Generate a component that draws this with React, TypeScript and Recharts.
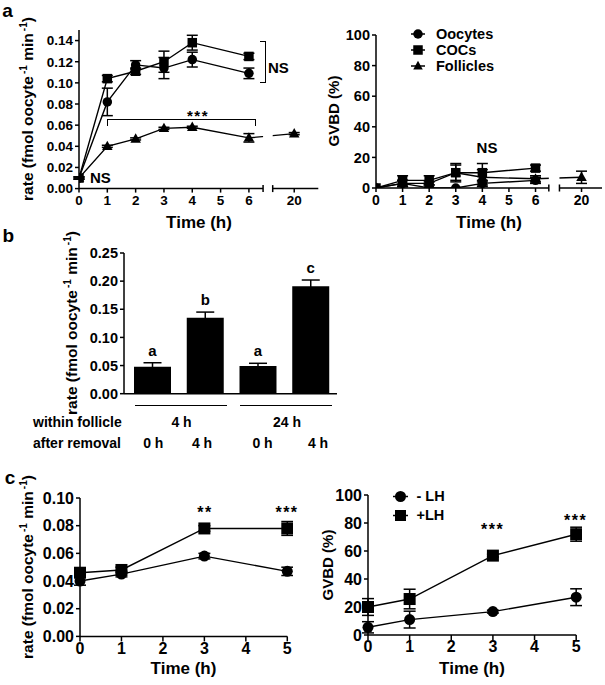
import React from 'react';
import {
  LineChart, Line, BarChart, Bar, XAxis, YAxis, ErrorBar, LabelList,
  ReferenceLine, ReferenceArea, Legend,
} from 'recharts';

// ---------- panel a: respiration rate and GVBD over culture time ----------
const hoursA = [0, 1, 2, 3, 4, 6, 20];
const rateOocytes = [0.010, 0.082, 0.117, 0.114, 0.122, 0.109, null];
const rateOocytesSem = [0.001, 0.013, 0.004, 0.010, 0.007, 0.005, null];
const rateCOCs = [0.010, 0.104, 0.111, 0.120, 0.138, 0.125, null];
const rateCOCsSem = [0.001, 0.003, 0.003, 0.010, 0.007, 0.003, null];
const rateFollicles = [0.010, 0.040, 0.047, 0.057, 0.058, 0.048, 0.052];
const rateFolliclesSem = [0.001, 0.001, 0.001, 0.001, 0.001, 0.004, 0.001];

const gvbdOocytes = [0, 3, 0, 0, 3, 5, null];
const gvbdOocytesSem = [0, 2, 0, 0, 2, 2, null];
const gvbdCOCs = [0, 5, 5, 10, 10, 13, null];
const gvbdCOCsSem = [0, 3, 3, 6, 6, 2, null];
const gvbdFollicles = [0, 3, 3, 10, 7, 6, 7];
const gvbdFolliclesSem = [0, 2, 1, 5, 5, 2, 4];

const seriesA = ['Oocytes', 'COCs', 'Follicles'];
const hourTicksA = [0, 1, 2, 3, 4, 5, 6, 20];
const rateTicksA = [0, 0.02, 0.04, 0.06, 0.08, 0.1, 0.12, 0.14];
const gvbdTicks = [0, 20, 40, 60, 80, 100];

// ---------- panel b ----------
const groupsB = ['4h/0h', '4h/4h', '24h/0h', '24h/4h'];
const rateB = [0.048, 0.135, 0.049, 0.191];
const semB = [0.007, 0.010, 0.005, 0.011];
const lettersB = ['a', 'b', 'a', 'c'];
const rateTicksB = [0, 0.05, 0.1, 0.15, 0.2, 0.25];
const withinFollicle = ['4 h', '24 h'];
const afterRemoval = ['0 h', '4 h', '0 h', '4 h'];

// ---------- panel c ----------
const hoursC = [0, 1, 3, 5];
const rateMinusLH = [0.040, 0.045, 0.058, 0.047];
const rateMinusLHSem = [0.003, 0.002, 0.002, 0.003];
const ratePlusLH = [0.046, 0.048, 0.078, 0.078];
const ratePlusLHSem = [0.003, 0.002, 0.002, 0.005];
const gvbdMinusLH = [5.5, 11, 16.7, 27];
const gvbdMinusLHSem = [4, 6, 1, 6];
const gvbdPlusLH = [20, 25.7, 56.7, 72];
const gvbdPlusLHSem = [6, 7, 1, 5];
const seriesC = ['- LH', '+LH'];
const hourTicksC = [0, 1, 2, 3, 4, 5];
const rateTicksC = [0, 0.02, 0.04, 0.06, 0.08, 0.1];

const FONT = '"Liberation Sans", Arial, sans-serif';
const YW = 50;
const XH = 30;
const ink = { stroke: '#000', strokeWidth: 1.5 };
const tickFont = (size: number) => ({ fill: '#000', fontSize: size, fontWeight: 700, fontFamily: FONT });

const shapes: Record<string, string> = {
  Oocytes: 'circle', COCs: 'square', Follicles: 'triangle', '- LH': 'circle', '+LH': 'square',
};

// 20 h sits after an axis break, so it gets its own slot on the axis
const A20_LEFT = 7.6;
const A20_RIGHT = 7.73;
const broken = (h: number, at20: number) => (h > 6 ? at20 : h);
const fmtHour = (v: number) => (v > 6 ? '20' : String(v));

const rowsRateA = hoursA.map((h, i) => ({
  t: broken(h, A20_LEFT),
  oocytes: rateOocytes[i], oocytesSem: rateOocytesSem[i],
  cocs: rateCOCs[i], cocsSem: rateCOCsSem[i],
  follicles: rateFollicles[i], folliclesSem: rateFolliclesSem[i],
}));
const rowsGvbdA = hoursA.map((h, i) => ({
  t: broken(h, A20_RIGHT),
  oocytes: gvbdOocytes[i], oocytesSem: gvbdOocytesSem[i],
  cocs: gvbdCOCs[i], cocsSem: gvbdCOCsSem[i],
  follicles: gvbdFollicles[i], folliclesSem: gvbdFolliclesSem[i],
}));
const rowsB = groupsB.map((g, i) => ({ group: g, rate: rateB[i], sem: semB[i], letter: lettersB[i] }));
const rowsRateC = hoursC.map((h, i) => ({
  t: h, minus: rateMinusLH[i], minusSem: rateMinusLHSem[i], plus: ratePlusLH[i], plusSem: ratePlusLHSem[i],
}));
const rowsGvbdC = hoursC.map((h, i) => ({
  t: h, minus: gvbdMinusLH[i], minusSem: gvbdMinusLHSem[i], plus: gvbdPlusLH[i], plusSem: gvbdPlusLHSem[i],
}));

// chart box placed so that its plot area lands on (l,t)-(r,b) of the page
function frame(l: number, t: number, r: number, b: number, mt = 12, mr = 6) {
  const mb = 4;
  return {
    pos: { position: 'absolute' as const, left: l - YW, top: t - mt },
    width: YW + (r - l) + mr,
    height: mt + (b - t) + XH + mb,
    margin: { top: mt, right: mr, bottom: mb, left: 0 },
  };
}
const fA1 = frame(79, 29.7, 318.3, 188.3);
const fA2 = frame(375.7, 35, 601.7, 188, 12, 2);
const fB = frame(124, 253.3, 337, 394);
const fC1 = frame(80, 498.3, 287.3, 636.7);
const fC2 = frame(367.5, 495, 575.7, 635, 12);

function Marker({ shape, cx, cy, size }: any) {
  if (shape === 'circle') return <circle cx={cx} cy={cy} r={size / 2} fill="#000" />;
  if (shape === 'square') return <rect x={cx - size / 2} y={cy - size / 2} width={size} height={size} fill="#000" />;
  const h = size * 0.9;
  return (
    <polygon
      points={`${cx},${cy - h * 0.6} ${cx - size / 2},${cy + h * 0.4} ${cx + size / 2},${cy + h * 0.4}`}
      fill="#000"
    />
  );
}

const dotOf = (shape: string, size: number) => (p: any) =>
  p.cx == null || p.cy == null
    ? <g key={`n${shape}${p.index}`} />
    : <Marker key={`${shape}${p.index}`} shape={shape} cx={p.cx} cy={p.cy} size={size} />;

function SeriesLegend({ payload, order, rowH, lineW, gap, size }: any) {
  const items = [...(payload || [])].sort((a: any, b: any) => order.indexOf(a.value) - order.indexOf(b.value));
  return (
    <div style={{ fontFamily: FONT, fontWeight: 700 }}>
      {items.map((e: any) => (
        <div key={e.value} style={{ display: 'flex', alignItems: 'center', height: rowH }}>
          <svg width={lineW} height={rowH} style={{ display: 'block' }}>
            <line x1={0} x2={lineW} y1={rowH / 2} y2={rowH / 2} stroke="#000" strokeWidth={1.5} />
            <Marker shape={shapes[e.value]} cx={lineW / 2} cy={rowH / 2} size={size} />
          </svg>
          <span style={{ marginLeft: gap, fontSize: 14.5, lineHeight: 1 }}>{e.value}</span>
        </div>
      ))}
    </div>
  );
}

function LetterLabel(props: any) {
  const vb = props.viewBox || props;
  const x = Number(vb.x ?? props.x);
  const y = Number(vb.y ?? props.y);
  const w = Number(vb.width ?? props.width);
  const h = Number(vb.height ?? props.height);
  const i = props.index;
  const errPx = (semB[i] / rateB[i]) * h;
  return (
    <text x={x + w / 2} y={y - errPx - 7} textAnchor="middle" fontSize={15} fontWeight={700} fontFamily={FONT} fill="#000">
      {props.value}
    </text>
  );
}

function brokenAxis(end6: number, start20: number, end: number, tick: number) {
  return [
    <ReferenceLine key="s1" segment={[{ x: 0, y: 0 }, { x: end6, y: 0 }]} {...ink} ifOverflow="visible" />,
    <ReferenceLine key="s2" segment={[{ x: start20, y: 0 }, { x: end, y: 0 }]} {...ink} ifOverflow="visible" />,
    <ReferenceLine key="b1" segment={[{ x: end6, y: -tick }, { x: end6, y: tick }]} {...ink} ifOverflow="visible" />,
    <ReferenceLine key="b2" segment={[{ x: start20, y: -tick }, { x: start20, y: tick }]} {...ink} ifOverflow="visible" />,
  ];
}

const Note = ({ x, y, size = 15, left = false, spacing = 0, children }: any) => (
  <div
    style={{
      position: 'absolute', left: x, top: y, fontSize: size, lineHeight: 1, whiteSpace: 'nowrap',
      letterSpacing: spacing, transform: left ? 'translateY(-50%)' : 'translate(-50%,-50%)',
    }}
  >
    {children}
  </div>
);

const Title = ({ x, y, size = 17, rotate = false, children }: any) => (
  <div
    style={{
      position: 'absolute', left: x, top: y, fontSize: size, lineHeight: 1, whiteSpace: 'nowrap',
      transform: `translate(-50%,-50%)${rotate ? ' rotate(-90deg)' : ''}`,
    }}
  >
    {children}
  </div>
);

const Sup = ({ children }: any) => (
  <span style={{ fontSize: '0.65em', position: 'relative', top: '-0.6em', marginLeft: 2, lineHeight: 0 }}>{children}</span>
);
const rateTitle = <>rate (fmol oocyte<Sup>-1</Sup> min<Sup>-1</Sup>)</>;

const Rule = ({ x1, x2, y }: any) => (
  <div style={{ position: 'absolute', left: x1, top: y - 0.75, width: x2 - x1, borderTop: '1.5px solid #000' }} />
);

const lineProps = { stroke: '#000', strokeWidth: 1.4, type: 'linear' as const, isAnimationActive: false, activeDot: false };
const errProps = { stroke: '#000', strokeWidth: 1.5, direction: 'y' as const, isAnimationActive: false };

export default function App() {
  return (
    <div
      style={{
        position: 'absolute', left: 0, top: 0, width: 605, height: 685, background: '#fff',
        fontFamily: FONT, fontWeight: 700, color: '#000', overflow: 'hidden',
      }}
    >
      {/* ---------- a, left: rate ---------- */}
      <div style={fA1.pos}>
        <LineChart width={fA1.width} height={fA1.height} margin={fA1.margin} data={rowsRateA}>
          <XAxis type="number" dataKey="t" domain={[0, 8.45]} ticks={hourTicksA.map((h) => broken(h, A20_LEFT))}
            interval={0} tickFormatter={fmtHour} axisLine={false} tickLine={ink} tick={tickFont(13.5)}
            tickSize={4} tickMargin={3} height={XH} allowDataOverflow />
          <YAxis type="number" domain={[0, 0.15]} ticks={rateTicksA} interval={0} tickFormatter={(v) => v.toFixed(2)}
            axisLine={ink} tickLine={ink} tick={tickFont(13.5)} tickSize={4} tickMargin={2} width={YW} allowDataOverflow />
          <Line dataKey="follicles" name="Follicles" {...lineProps} dot={dotOf('triangle', 10.5)}>
            <ErrorBar dataKey="folliclesSem" width={5.5} {...errProps} />
          </Line>
          <Line dataKey="oocytes" name="Oocytes" {...lineProps} dot={dotOf('circle', 9.5)}>
            <ErrorBar dataKey="oocytesSem" width={5.5} {...errProps} />
          </Line>
          <Line dataKey="cocs" name="COCs" {...lineProps} dot={dotOf('square', 9.5)}>
            <ErrorBar dataKey="cocsSem" width={5.5} {...errProps} />
          </Line>
          <ReferenceArea x1={6.5} x2={6.84} y1={0.004} y2={0.15} fill="#fff" fillOpacity={1} stroke="none" zIndex={1000} />
          {brokenAxis(6.5, 6.84, 8.45, 0.0033)}
        </LineChart>
      </div>

      {/* ---------- a, right: GVBD ---------- */}
      <div style={fA2.pos}>
        <LineChart width={fA2.width} height={fA2.height} margin={fA2.margin} data={rowsGvbdA}>
          <XAxis type="number" dataKey="t" domain={[0, 8.5]} ticks={hourTicksA.map((h) => broken(h, A20_RIGHT))}
            interval={0} tickFormatter={fmtHour} axisLine={false} tickLine={ink} tick={tickFont(14)}
            tickSize={4} tickMargin={3} height={XH} allowDataOverflow />
          <YAxis type="number" domain={[0, 100]} ticks={gvbdTicks} interval={0}
            axisLine={ink} tickLine={ink} tick={tickFont(14.5)} tickSize={4} tickMargin={2} width={YW} allowDataOverflow />
          <Line dataKey="follicles" name="Follicles" {...lineProps} dot={dotOf('triangle', 10.5)}>
            <ErrorBar dataKey="folliclesSem" width={5.5} {...errProps} />
          </Line>
          <Line dataKey="oocytes" name="Oocytes" {...lineProps} dot={dotOf('circle', 9.5)}>
            <ErrorBar dataKey="oocytesSem" width={5.5} {...errProps} />
          </Line>
          <Line dataKey="cocs" name="COCs" {...lineProps} dot={dotOf('square', 9.5)}>
            <ErrorBar dataKey="cocsSem" width={5.5} {...errProps} />
          </Line>
          <ReferenceArea x1={6.5} x2={6.9} y1={3} y2={100} fill="#fff" fillOpacity={1} stroke="none" zIndex={1000} />
          {brokenAxis(6.5, 6.9, 8.5, 2.3)}
          <Legend layout="vertical" align="center" verticalAlign="middle"
            wrapperStyle={{ left: 85.3, top: 3, width: 'auto' }}
            content={(p: any) => <SeriesLegend payload={p.payload} order={seriesA} rowH={16} lineW={14} gap={11} size={9.5} />} />
        </LineChart>
      </div>

      {/* ---------- b: bars ---------- */}
      <div style={fB.pos}>
        <BarChart width={fB.width} height={fB.height} margin={fB.margin} data={rowsB}>
          <XAxis dataKey="group" type="category" tick={false} tickLine={false} axisLine={ink} height={XH}
            padding={{ left: 2, right: 0 }} />
          <YAxis type="number" domain={[0, 0.25]} ticks={rateTicksB} interval={0} tickFormatter={(v) => v.toFixed(2)}
            axisLine={ink} tickLine={ink} tick={tickFont(14.5)} tickSize={4} tickMargin={2} width={YW} />
          <Bar dataKey="rate" fill="#000" barSize={37} isAnimationActive={false}>
            <ErrorBar dataKey="sem" width={9} {...errProps} />
            <LabelList dataKey="letter" content={<LetterLabel />} />
          </Bar>
        </BarChart>
      </div>

      {/* ---------- c, left: rate ---------- */}
      <div style={fC1.pos}>
        <LineChart width={fC1.width} height={fC1.height} margin={fC1.margin} data={rowsRateC}>
          <XAxis type="number" dataKey="t" domain={[0, 5]} ticks={hourTicksC} interval={0}
            axisLine={ink} tickLine={ink} tick={tickFont(16)} tickSize={5} tickMargin={1} height={XH} />
          <YAxis type="number" domain={[0, 0.1]} ticks={rateTicksC} interval={0} tickFormatter={(v) => v.toFixed(2)}
            axisLine={ink} tickLine={ink} tick={tickFont(16)} tickSize={4} tickMargin={2} width={YW} />
          <Line dataKey="minus" name="- LH" {...lineProps} dot={dotOf('circle', 11)}>
            <ErrorBar dataKey="minusSem" width={6} {...errProps} />
          </Line>
          <Line dataKey="plus" name="+LH" {...lineProps} dot={dotOf('square', 12)}>
            <ErrorBar dataKey="plusSem" width={6} {...errProps} />
          </Line>
        </LineChart>
      </div>

      {/* ---------- c, right: GVBD ---------- */}
      <div style={fC2.pos}>
        <LineChart width={fC2.width} height={fC2.height} margin={fC2.margin} data={rowsGvbdC}>
          <XAxis type="number" dataKey="t" domain={[0, 5]} ticks={hourTicksC} interval={0}
            axisLine={ink} tickLine={ink} tick={tickFont(16)} tickSize={5} tickMargin={1} height={XH} />
          <YAxis type="number" domain={[0, 100]} ticks={gvbdTicks} interval={0}
            axisLine={ink} tickLine={ink} tick={tickFont(16)} tickSize={4} tickMargin={2} width={YW} />
          <Line dataKey="minus" name="- LH" {...lineProps} dot={dotOf('circle', 11)}>
            <ErrorBar dataKey="minusSem" width={6} {...errProps} />
          </Line>
          <Line dataKey="plus" name="+LH" {...lineProps} dot={dotOf('square', 12)}>
            <ErrorBar dataKey="plusSem" width={6} {...errProps} />
          </Line>
          <Legend layout="vertical" align="center" verticalAlign="middle"
            wrapperStyle={{ left: 75, top: 3.5, width: 'auto' }}
            content={(p: any) => <SeriesLegend payload={p.payload} order={seriesC} rowH={19} lineW={15} gap={9} size={11} />} />
        </LineChart>
      </div>

      {/* ---------- text: panel letters, axis titles, annotations ---------- */}
      <Note x={7.5} y={10} size={19}>a</Note>
      <Note x={8.3} y={235} size={19}>b</Note>
      <Note x={10} y={476.6} size={19}>c</Note>

      <Title x={27.5} y={109} size={15.5} rotate>{rateTitle}</Title>
      <Title x={199} y={222}>Time (h)</Title>
      <Title x={332.5} y={111} size={15} rotate>GVBD (%)</Title>
      <Title x={489} y={222}>Time (h)</Title>

      <Title x={72} y={323} size={15.5} rotate>{rateTitle}</Title>

      <Title x={27.5} y={567} size={15.5} rotate>{rateTitle}</Title>
      <Title x={183.5} y={668}>Time (h)</Title>
      <Title x={326.5} y={565} size={15} rotate>GVBD (%)</Title>
      <Title x={472} y={668}>Time (h)</Title>

      {/* a: significance marks */}
      <Note x={90} y={177} left>NS</Note>
      <Note x={268} y={67} left>NS</Note>
      <Note x={198} y={115} spacing={1.5}>***</Note>
      <div style={{ position: 'absolute', left: 259.5, top: 41, width: 6.5, height: 41.5, boxSizing: 'border-box',
        borderTop: '1.5px solid #000', borderRight: '1.5px solid #000', borderBottom: '1.5px solid #000' }} />
      <div style={{ position: 'absolute', left: 107, top: 118.5, width: 149, height: 7, boxSizing: 'border-box',
        borderTop: '1.5px solid #000', borderLeft: '1.5px solid #000', borderRight: '1.5px solid #000' }} />
      <Note x={487} y={147}>NS</Note>

      {/* b: group labels under the bars */}
      <Rule x1={135} x2={226.7} y={405.5} />
      <Rule x1={240} x2={331.7} y={405.5} />
      <Note x={33} y={421.5} size={14} left>within follicle</Note>
      <Note x={33} y={443} size={14} left>after removal</Note>
      <Note x={181.5} y={421.5} size={14}>{withinFollicle[0]}</Note>
      <Note x={287} y={421.5} size={14}>{withinFollicle[1]}</Note>
      <Note x={153.3} y={443} size={14}>{afterRemoval[0]}</Note>
      <Note x={202} y={443} size={14}>{afterRemoval[1]}</Note>
      <Note x={262.5} y={443} size={14}>{afterRemoval[2]}</Note>
      <Note x={318} y={443} size={14}>{afterRemoval[3]}</Note>

      {/* c: significance marks */}
      <Note x={205} y={513} size={16} spacing={1.5}>**</Note>
      <Note x={287} y={513} size={16} spacing={1.5}>***</Note>
      <Note x={492.7} y={530} size={16} spacing={1.5}>***</Note>
      <Note x={575.7} y={521} size={16} spacing={1.5}>***</Note>
    </div>
  );
}
